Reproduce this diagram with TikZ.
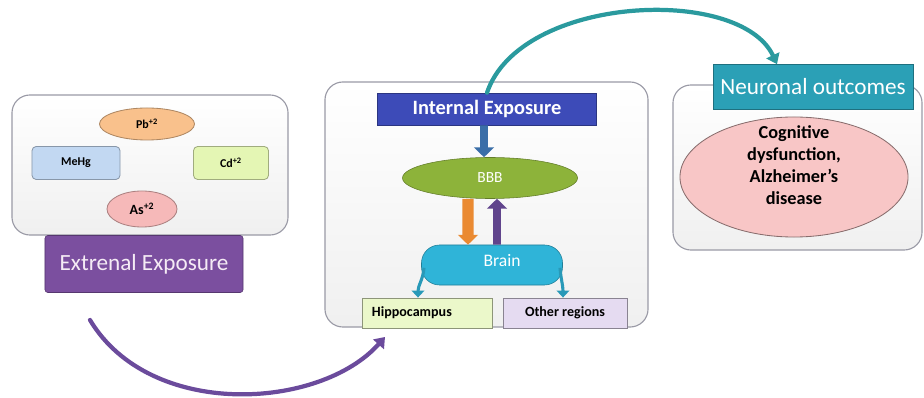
\documentclass[tikz,border=0pt]{standalone}
\usepackage{fontspec}
\setmainfont{Carlito}
\usepackage{xcolor}
\usetikzlibrary{arrows.meta,shapes.geometric}

\definecolor{panelline}{HTML}{9A9AA6}
\definecolor{pbfill}{HTML}{F9C18C}
\definecolor{mehgfill}{HTML}{C2D8F2}
\definecolor{cdfill}{HTML}{E4F6B4}
\definecolor{asfill}{HTML}{F6B9B9}
\definecolor{extfill}{HTML}{7B4F9F}
\definecolor{intfill}{HTML}{3D4BB8}
\definecolor{bbbfill}{HTML}{8DB33A}
\definecolor{brainfill}{HTML}{2FB4D8}
\definecolor{hipfill}{HTML}{EBF8CA}
\definecolor{othfill}{HTML}{E5DBF1}
\definecolor{neurofill}{HTML}{2BA0B6}
\definecolor{cogfill}{HTML}{F8C6C6}
\definecolor{tealarr}{HTML}{2A9A9E}
\definecolor{purparr}{HTML}{6B4B9C}
\definecolor{downblue}{HTML}{3A6EA8}
\definecolor{downorange}{HTML}{EA8A32}

\tikzset{
  panel/.style={draw=panelline, thick, rounded corners=0.45cm, top color=white, bottom color=gray!12},
  metal/.style={draw=#1!70!black, semithick, fill=#1, font=\fontsize{8.5}{10}\selectfont\bfseries, inner sep=1pt},
  bigbox/.style={fill=#1, draw=#1!70!black, text=white, inner sep=2pt},
  smallbox/.style={draw=#1!60!black, semithick, fill=#1, font=\fontsize{10}{12}\selectfont\bfseries, minimum width=3.1cm, minimum height=0.75cm},
  fatarr/.style={line width=#1, -{Triangle[length=7pt, width=14pt]}},
  curvarr/.style={line width=3pt, line cap=round, -{Triangle[length=7pt, width=10pt]}}
}

\begin{document}
\begin{tikzpicture}[x=0.025cm, y=-0.025cm, every node/.style={font=\small}]
  \useasboundingbox (0,0) rectangle (924,398);

  % the three panels
  \node[panel, minimum width=6.9cm, minimum height=3.5cm] (leftpanel) at (150,165) {};
  \node[panel, minimum width=8.075cm, minimum height=6.125cm] (midpanel) at (486.5,204.5) {};
  \node[panel, minimum width=6.225cm, minimum height=4.125cm] (rightpanel) at (797.5,167.5) {};

  % metals
  \node[metal=pbfill, ellipse, minimum width=2.375cm, minimum height=0.8cm] (pb) at (147,124) {Pb\textsuperscript{+2}};
  \node[metal=mehgfill, rounded corners=3pt, minimum width=2.2cm, minimum height=0.825cm] (mehg) at (76,163) {MeHg};
  \node[metal=cdfill, rounded corners=3pt, minimum width=1.875cm, minimum height=0.825cm] (cd) at (231,163) {Cd\textsuperscript{+2}};
  \node[metal=asfill, ellipse, minimum width=1.75cm, minimum height=0.9cm, font=\fontsize{10}{12}\selectfont\bfseries] (as) at (142,209) {As\textsuperscript{+2}};
  \node[bigbox=extfill, rounded corners=2pt, minimum width=4.95cm, minimum height=1.425cm,
        text=violet!8, font=\fontsize{16.5}{19}\selectfont] (ext) at (144,264) {Extrenal Exposure};

  % inside the body
  \node[bigbox=intfill, minimum width=5.475cm, minimum height=0.8cm, font=\fontsize{14.5}{17}\selectfont\bfseries] (int) at (487,109) {Internal Exposure};
  \node[bigbox=bbbfill, ellipse, minimum width=4.375cm, minimum height=1.025cm, font=\fontsize{11}{13}\selectfont] (bbb) at (490,178) {BBB};
  \node[bigbox=brainfill, rounded corners=0.45cm, minimum width=3.525cm, minimum height=1cm, font=\fontsize{12.5}{15}\selectfont] (brain) at (492,265) {\hspace*{0.5cm}\raisebox{1.1ex}{Brain}};
  \node[smallbox=hipfill, minimum width=3.25cm, text width=2.75cm, align=left] (hippo) at (427,313) {Hippocampus};
  \node[smallbox=othfill] (other) at (565,313) {Other regions};

  \draw[fatarr=5.5pt, color=downblue] ([xshift=-0.075cm]int.south) -- ([xshift=-0.15cm]bbb.north);
  \draw[fatarr=8pt, color=downorange] ([xshift=-0.55cm]bbb.south) -- ([xshift=-0.6cm]brain.north);
  \draw[fatarr=5.5pt, color=purparr!90!black] ([xshift=0.125cm]brain.north) -- ([xshift=0.175cm]bbb.south);
  \draw[line width=2.2pt, color=brainfill!85!black, -{Triangle[length=5pt, width=9pt]}]
    ([xshift=2pt, yshift=-2pt]brain.west) to[out=-95, in=90] ([xshift=-0.225cm]hippo.north);
  \draw[line width=2.2pt, color=brainfill!85!black, -{Triangle[length=5pt, width=9pt]}]
    ([xshift=-2pt, yshift=-2pt]brain.east) to[out=-85, in=90] ([xshift=-0.05cm]other.north);

  % outcomes
  \node[bigbox=neurofill, minimum width=5cm, minimum height=1.125cm, font=\fontsize{16.5}{19}\selectfont] (neuro) at (813,87) {Neuronal outcomes};
  \node[ellipse, draw=cogfill!55!black, semithick, fill=cogfill, minimum width=5.7cm, minimum height=3cm,
        label={[align=center, font=\fontsize{13}{15.5}\selectfont\bfseries, yshift=0.3cm]center:Cognitive\\dysfunction,\\Alzheimer's\\disease}] (cog) at (794,177) {};

  % the two bent arrows
  \draw[curvarr, color=tealarr] ([xshift=0cm]int.north) .. controls (520,-5) and (740,-15) .. ([xshift=-0.9cm]neuro.north);
  \coordinate (arcstart) at (90,320);
  \coordinate (arcend) at (385,337);
  \draw[curvarr, color=purparr] (arcstart) .. controls (150,420) and (320,410) .. (arcend);
\end{tikzpicture}
\end{document}
